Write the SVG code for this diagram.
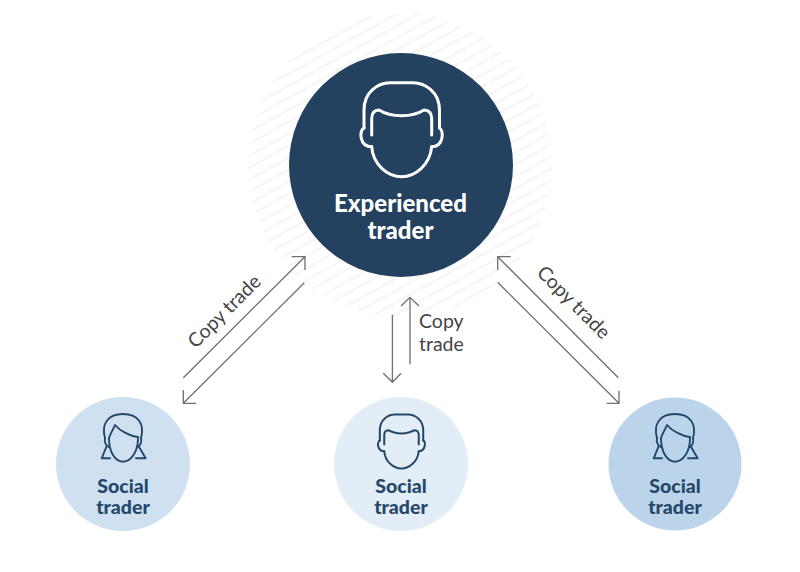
<svg xmlns="http://www.w3.org/2000/svg" width="800" height="572" viewBox="0 0 800 572">
<style>
.conn{fill:none;stroke:#6f6f6f;stroke-width:1.3}
.lab{font-family:"Lato","Liberation Sans",sans-serif;font-size:19.500px;fill:#454545}
.big{font-family:"Lato","Liberation Sans",sans-serif;font-weight:900;font-size:24px;fill:#fff;text-anchor:middle}
.small{font-family:"Lato","Liberation Sans",sans-serif;font-weight:900;font-size:19.500px;fill:#24486a;text-anchor:middle}
.head{fill:none;stroke-linejoin:round;stroke-linecap:round}
</style>
<defs>
<clipPath id="hc"><circle cx="400" cy="165" r="152"/></clipPath>
<pattern id="hatch" width="10" height="10.500" patternUnits="userSpaceOnUse" patternTransform="rotate(-29)"><line x1="0" y1="5" x2="10" y2="5" stroke="#ebebeb" stroke-width="1"/></pattern>
<g id="man" class="head">
<path d="M371.700 135V119Q371.700 110 379 110Q388 115.700 401.700 115.700Q415 115.700 424 110Q431.700 110 431.700 119V135"/>
<path d="M371.700 146.700C373 165 388 176.700 401.700 176.700C415 176.700 430 165 431.700 146.700"/>
<path d="M364 128V110C364 92 378 82.700 390 82.700H413C425 82.700 439.500 92 439.500 110V128"/>
<path d="M364 128C359 130 359 146.700 371.700 146.700M439.500 128C444 130 444 146.700 431.700 146.700"/>
</g>
<g id="woman" class="head">
<path d="M109 438C109 452 115 461.700 123 461.700C131 461.700 138 452 138 438"/>
<path d="M109 438C111 432 113 430 115 425C120 431 130 436 138 437"/>
<path d="M105 438C101 424 108 414 123 414C138 414 145 424 141 438"/>
<path d="M105 438C104 442 106 446 109 447M141 438C142 442 140 446 138 447"/>
<path d="M106.700 446L101.700 458.300H110M138.500 446L145.700 458.300H136"/>
</g>
</defs>
<rect width="800" height="572" fill="#fff"/>
<g id="hatching" clip-path="url(#hc)"><rect x="240" y="5" width="320" height="320" fill="url(#hatch)"/></g>
<g id="connectors">
<path class="conn" d="M183.300 377.700L305 256.700M291.700 256.700H305V270"/>
<path class="conn" d="M304.300 282.700L183.300 403.300M183.300 390V403.300H196"/>
<path class="conn" d="M392.400 314.700V382.300M383.300 373.300L392.400 382.300L401 373.300"/>
<path class="conn" d="M410 364.300V297.300M401 306L410 297.300L419 306"/>
<path class="conn" d="M618.300 377.700L497.700 256.700M510.700 256.700H497.700V270"/>
<path class="conn" d="M497.700 282.300L619 403.300M619 390.700V403.300H606.700"/>
</g>
<g id="experienced-trader">
<circle cx="401" cy="165" r="112" fill="#24415f"/>
<use href="#man" stroke="#fff" stroke-width="3"/>
<text class="big" x="400.500" y="212">Experienced</text>
<text class="big" x="400.500" y="239">trader</text>
</g>
<g id="social-trader-1">
<circle cx="123" cy="464" r="67" fill="#cfe0f1"/>
<use href="#woman" stroke="#24486a" stroke-width="1.900"/>
<text class="small" x="123" y="493">Social</text>
<text class="small" x="123" y="514">trader</text>
</g>
<g id="social-trader-2">
<circle cx="401" cy="464" r="67" fill="#e2edf7"/>
<use href="#man" transform="translate(401.500 441.500) scale(.575) translate(-401.700 -129.700)" stroke="#24486a" stroke-width="3.500"/>
<text class="small" x="401" y="493">Social</text>
<text class="small" x="401" y="514">trader</text>
</g>
<g id="social-trader-3">
<circle cx="675" cy="464" r="66.500" fill="#bcd4ea"/>
<use href="#woman" transform="translate(552 0)" stroke="#24486a" stroke-width="1.900"/>
<text class="small" x="675" y="493">Social</text>
<text class="small" x="675" y="514">trader</text>
</g>
<g id="labels">
<text class="lab" text-anchor="middle" transform="translate(229 316) rotate(-45)">Copy trade</text>
<text class="lab" text-anchor="middle" transform="translate(569 307) rotate(45)">Copy trade</text>
<text class="lab" x="419" y="328">Copy</text>
<text class="lab" x="419" y="351">trade</text>
</g>
</svg>
